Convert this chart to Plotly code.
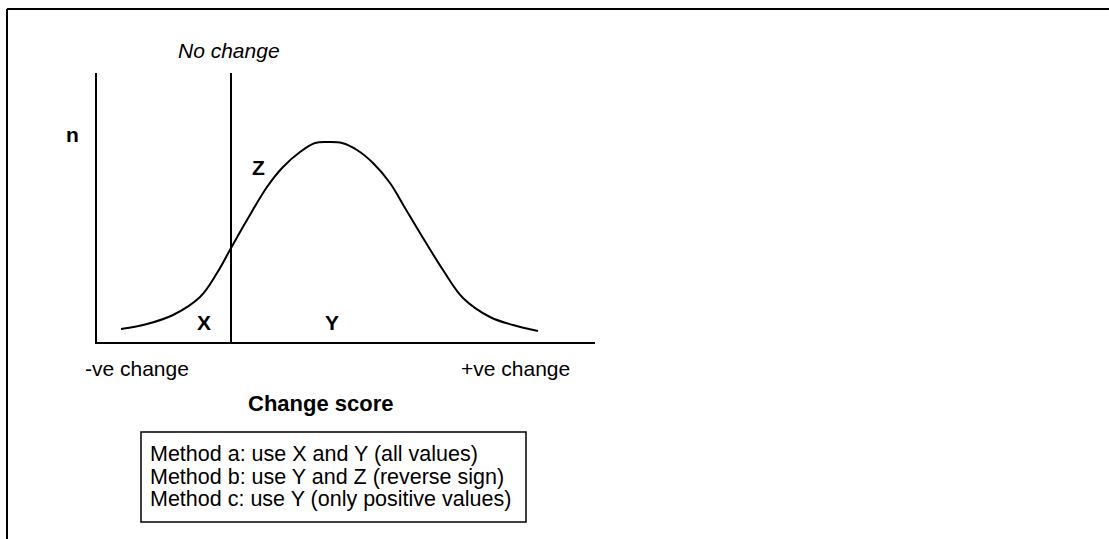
import plotly.graph_objects as go

# ---- data ----
# change score (0 = no change) and frequency n along the curve
curve_x = [-1.10, -0.84, -0.58, -0.31, -0.14, 0.00, 0.16, 0.36, 0.52, 0.69, 0.84,
           0.975, 1.11, 1.26, 1.42, 1.59, 1.74, 1.89, 2.12, 2.32, 2.59, 2.82, 3.07]
curve_n = [0.13, 0.18, 0.27, 0.45, 0.69, 0.94, 1.22, 1.55, 1.75, 1.90, 1.99,
           2.00, 1.99, 1.92, 1.79, 1.59, 1.34, 1.09, 0.72, 0.44, 0.25, 0.17, 0.11]
no_change_x = 0.0
x_range = [-1.34, 3.64]
y_range = [0, 2.69]

region_labels = ["X", "Y", "Z"]
region_x = [-0.27, 1.01, 0.27]
region_y = [0.20, 0.20, 1.75]

method_lines = [
    "Method a: use X and Y (all values)",
    "Method b: use Y and Z (reverse sign)",
    "Method c: use Y (only positive values)",
]

# ---- geometry helpers (pixel -> paper) ----
W, H = 1109, 539
L, R, T, B = 97, 595, 73, 342


def px(x):
    return (x - L) / (R - L)


def py(y):
    return (B - y) / (B - T)


FONT = "Liberation Sans, Arial, Helvetica, sans-serif"

fig = go.Figure()
fig.add_trace(go.Scatter(
    x=curve_x, y=curve_n, mode="lines",
    line=dict(color="black", width=2, shape="spline", smoothing=1.0),
    hoverinfo="skip", showlegend=False,
))

shapes = [
    # no change line
    dict(type="line", xref="x", yref="paper", x0=no_change_x, x1=no_change_x, y0=0, y1=1,
         line=dict(color="black", width=2)),
    # outer frame (left and top)
    dict(type="line", xref="paper", yref="paper", x0=px(7), x1=px(7), y0=py(9), y1=py(545),
         line=dict(color="black", width=2)),
    dict(type="line", xref="paper", yref="paper", x0=px(7), x1=px(1115), y0=py(9), y1=py(9),
         line=dict(color="black", width=2)),
    # method box
    dict(type="rect", xref="paper", yref="paper", x0=px(141), x1=px(526), y0=py(522), y1=py(432),
         line=dict(color="black", width=1.5), fillcolor="rgba(0,0,0,0)"),
]


def font(size):
    return dict(size=size, color="black", family=FONT)


ann = []
fs = 21
ann.append(dict(text="<i>No change</i>", xref="paper", yref="paper", x=px(229), y=py(50),
                xanchor="center", yanchor="middle", showarrow=False, font=font(fs)))
ann.append(dict(text="<b>n</b>", xref="paper", yref="paper", x=px(72), y=py(134),
                xanchor="center", yanchor="middle", showarrow=False, font=font(fs)))
for t, xx, yy in zip(region_labels, region_x, region_y):
    ann.append(dict(text=f"<b>{t}</b>", xref="x", yref="y", x=xx, y=yy,
                    xanchor="center", yanchor="middle", showarrow=False, font=font(fs)))
ann.append(dict(text="-ve change", xref="paper", yref="paper", x=px(137), y=py(368),
                xanchor="center", yanchor="middle", showarrow=False, font=font(fs)))
ann.append(dict(text="+ve change", xref="paper", yref="paper", x=px(515), y=py(368),
                xanchor="center", yanchor="middle", showarrow=False, font=font(fs)))
ann.append(dict(text="<b>Change score</b>", xref="paper", yref="paper", x=px(321), y=py(403),
                xanchor="center", yanchor="middle", showarrow=False, font=font(22)))
for i, line in enumerate(method_lines):
    ann.append(dict(text=line, xref="paper", yref="paper", x=px(148), y=py(454 + 22.7 * i),
                    xanchor="left", yanchor="middle", showarrow=False, font=font(21.5)))

fig.update_layout(
    width=W, height=H,
    margin=dict(l=L, r=W - R, t=T, b=H - B),
    paper_bgcolor="white", plot_bgcolor="white",
    shapes=shapes, annotations=ann,
    xaxis=dict(range=x_range, showline=True, linecolor="black", linewidth=2,
               showgrid=False, zeroline=False, showticklabels=False, ticks=""),
    yaxis=dict(range=y_range, showline=True, linecolor="black", linewidth=2,
               showgrid=False, zeroline=False, showticklabels=False, ticks=""),
    showlegend=False,
)

fig.write_html("out.html", config={"displayModeBar": False},
               post_script="document.body.style.margin='0px';")
